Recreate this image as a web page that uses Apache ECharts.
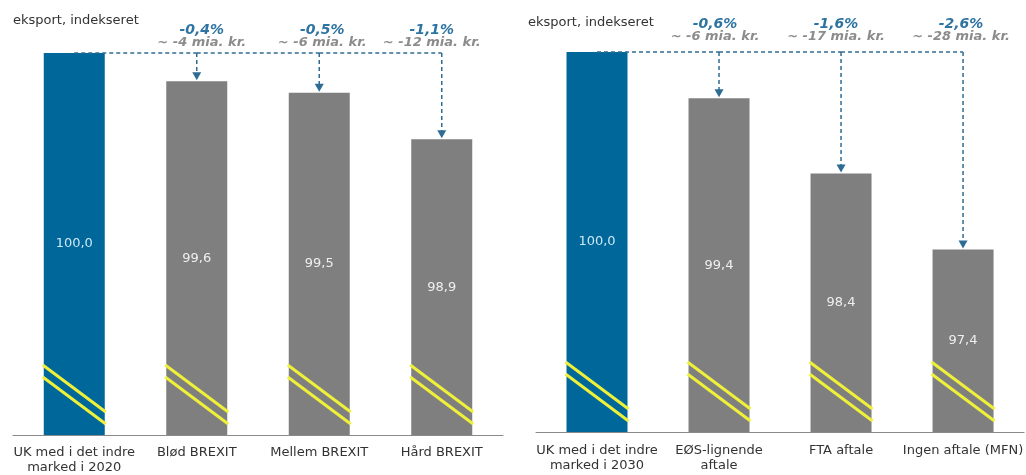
<!DOCTYPE html>
<html>
<head>
<meta charset="utf-8">
<script src="https://cdn.jsdelivr.net/npm/echarts@6/dist/echarts.min.js"></script>
<style>
html,body{margin:0;padding:0;background:#fff;}
#chart{width:1026px;height:475px;}
</style>
</head>
<body>
<div id="chart"></div>
<script>
// ---- data ----
const axisTitle = 'eksport, indekseret';
const categoriesLeft = ['UK med i det indre\nmarked i 2020', 'Blød BREXIT', 'Mellem BREXIT', 'Hård BREXIT'];
const valuesLeft = [100.0, 99.63, 99.48, 98.87];
const pctLeft = ['', '-0,4%', '-0,5%', '-1,1%'];
const miaLeft = ['', '~ -4 mia. kr.', '~ -6 mia. kr.', '~ -12 mia. kr.'];

const categoriesRight = ['UK med i det indre\nmarked i 2030', 'EØS-lignende\naftale', 'FTA aftale', 'Ingen aftale (MFN)'];
const valuesRight = [100.0, 99.39, 98.4, 97.4];
const pctRight = ['', '-0,6%', '-1,6%', '-2,6%'];
const miaRight = ['', '~ -6 mia. kr.', '~ -17 mia. kr.', '~ -28 mia. kr.'];

const yMin = 95;
const yMax = 100;

// ---- styles ----
const FONT = 'DejaVu Sans';
const BLUE = '#00679a';
const GRAY = '#7f7f7f';
const ARROW = '#2f6c93';
const PCT = '#2d74a3';
const MIA = '#8c8c8c';
const YELLOW = '#eef03a';
const BAR_W = 61;
// small horizontal nudges of the annotation texts (styling only)
const nudgeLeft = [0, 5, 3, -10];
const nudgeRight = [0, -4, -5, -2];

function fmt(v) { return v.toFixed(1).replace('.', ','); }

function barData(vals) {
  return vals.map((v, i) => ({
    value: v,
    itemStyle: { color: i === 0 ? BLUE : GRAY },
    label: { color: i === 0 ? '#cde7f5' : '#efefef' }
  }));
}

function breakRender(params, api) {
  const c = api.coord([api.value(0), yMin]);
  const x0 = c[0] - BAR_W / 2 - 1, x1 = c[0] + BAR_W / 2 + 1, b = c[1];
  const st = { stroke: YELLOW, lineWidth: 3, lineCap: 'butt' };
  return {
    type: 'group',
    children: [
      { type: 'line', shape: { x1: x0, y1: b - 70, x2: x1, y2: b - 23 }, style: st },
      { type: 'line', shape: { x1: x0, y1: b - 58, x2: x1, y2: b - 11 }, style: st }
    ]
  };
}

function arrowRender(pcts, mias, offA, offB, nudge) {
  return function (params, api) {
    const i = api.value(0), v = api.value(1);
    const top = api.coord([i, yMax]);
    const prev = api.coord([i - 1, yMax]);
    const bot = api.coord([i, v]);
    const x = top[0];
    const tx = x + nudge[i];
    const dash = { stroke: ARROW, lineWidth: 1.5, lineDash: [4, 3] };
    return {
      type: 'group',
      children: [
        { type: 'line', shape: { x1: prev[0], y1: top[1], x2: x, y2: top[1] }, style: dash },
        { type: 'line', shape: { x1: x, y1: top[1], x2: x, y2: bot[1] - 8 }, style: dash },
        { type: 'polygon', shape: { points: [[x - 4.5, bot[1] - 9], [x + 4.5, bot[1] - 9], [x, bot[1] - 1]] }, style: { fill: ARROW } },
        { type: 'text', style: { text: pcts[i], x: tx, y: top[1] - offA, align: 'center', verticalAlign: 'middle', fontFamily: FONT, fontSize: 14, fontWeight: 'bold', fontStyle: 'italic', fill: PCT } },
        { type: 'text', style: { text: mias[i], x: tx, y: top[1] - offB, align: 'center', verticalAlign: 'middle', fontFamily: FONT, fontSize: 13, fontWeight: 'bold', fontStyle: 'italic', fill: MIA } }
      ]
    };
  };
}

function xAxisCfg(cats, idx, margin) {
  return {
    type: 'category', gridIndex: idx, data: cats,
    axisLine: { lineStyle: { color: '#8a8a8a', width: 1 } },
    axisTick: { show: false },
    axisLabel: { color: '#333', fontFamily: FONT, fontSize: 13, lineHeight: 15, margin: margin, interval: 0 }
  };
}
function yAxisCfg(idx) {
  return { type: 'value', gridIndex: idx, min: yMin, max: yMax, show: false, splitLine: { show: false } };
}

const chart = echarts.init(document.getElementById('chart'), null, { renderer: 'canvas' });
chart.setOption({
  animation: false,
  backgroundColor: '#fff',
  title: [
    { text: axisTitle, left: 8, top: 9, textStyle: { fontFamily: FONT, fontSize: 13, fontWeight: 'normal', color: '#333' } },
    { text: axisTitle, left: 523, top: 11, textStyle: { fontFamily: FONT, fontSize: 13, fontWeight: 'normal', color: '#333' } }
  ],
  grid: [
    { left: 13, top: 53, width: 490, height: 383 },
    { left: 536, top: 52, width: 490, height: 380 }
  ],
  xAxis: [xAxisCfg(categoriesLeft, 0, 10), xAxisCfg(categoriesRight, 1, 11)],
  yAxis: [yAxisCfg(0), yAxisCfg(1)],
  series: [
    {
      type: 'bar', xAxisIndex: 0, yAxisIndex: 0, barWidth: BAR_W, data: barData(valuesLeft),
      label: { show: true, position: 'inside', fontFamily: FONT, fontSize: 13, formatter: p => fmt(p.value) }
    },
    {
      type: 'bar', xAxisIndex: 1, yAxisIndex: 1, barWidth: BAR_W, data: barData(valuesRight),
      label: { show: true, position: 'inside', fontFamily: FONT, fontSize: 13, formatter: p => fmt(p.value) }
    },
    {
      type: 'custom', xAxisIndex: 0, yAxisIndex: 0, renderItem: breakRender, z: 3,
      data: valuesLeft.map((v, i) => [i, v])
    },
    {
      type: 'custom', xAxisIndex: 1, yAxisIndex: 1, renderItem: breakRender, z: 3,
      data: valuesRight.map((v, i) => [i, v])
    },
    {
      type: 'custom', xAxisIndex: 0, yAxisIndex: 0, renderItem: arrowRender(pctLeft, miaLeft, 23, 10, nudgeLeft), z: 4,
      data: valuesLeft.map((v, i) => [i, v]).slice(1)
    },
    {
      type: 'custom', xAxisIndex: 1, yAxisIndex: 1, renderItem: arrowRender(pctRight, miaRight, 28, 15, nudgeRight), z: 4,
      data: valuesRight.map((v, i) => [i, v]).slice(1)
    }
  ]
});
</script>
</body>
</html>
